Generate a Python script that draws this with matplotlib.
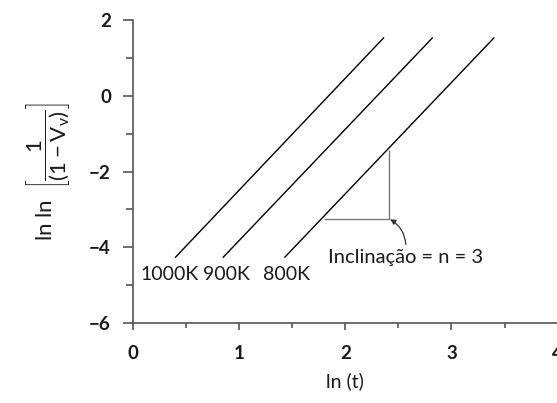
"""
ln ln [1/(1-Vv)] versus ln(t) for three temperatures.
"""

import numpy as np
from matplotlib import pyplot as plt

plt.rcParams['font.family'] = ['Lato', 'DejaVu Sans']
plt.rcParams['mathtext.fontset'] = 'custom'
plt.rcParams['mathtext.rm'] = 'Lato'
plt.rcParams['mathtext.it'] = 'Lato'

# Lines: start/end points in data units
temps = ["1000K", "900K", "800K"]
x_start = [0.40, 0.85, 1.43]
x_end = [2.36, 2.82, 3.40]
y_start = [-4.26, -4.26, -4.26]
y_end = [1.53, 1.53, 1.53]

# Label anchors (left edge, vertical centre)
label_x = [0.07, 0.66, 1.22]
label_y = [-4.72, -4.72, -4.72]

# Slope triangle on the 800K line
tri_x = [1.81, 2.41]
tri_y = [-3.24, -1.45]
slope_text = "Inclinação = n = 3"

AXIS_GRAY = "#555555"
TEXT_COLOR = "#1a1a1a"
TICK_FONTSIZE = 13.5
LABEL_FONTSIZE = 14

fig = plt.figure(figsize=(5.57, 4.03), dpi=100)
ax = fig.add_axes([0.239, 0.1985, 0.762, 0.7515])

for i, name in enumerate(temps):
    ax.plot([x_start[i], x_end[i]], [y_start[i], y_end[i]],
            color="black", linewidth=1.0)
    ax.text(label_x[i], label_y[i], name, fontsize=LABEL_FONTSIZE,
            ha="left", va="center", color=TEXT_COLOR)

# triangle: horizontal leg then vertical leg
ax.plot([tri_x[0], tri_x[1], tri_x[1]], [tri_y[0], tri_y[0], tri_y[1]],
        color="#777777", linewidth=1.0)

ax.annotate(slope_text, xy=(tri_x[1], tri_y[0]), xytext=(1.84, -4.26),
            fontsize=LABEL_FONTSIZE + 0.5, ha="left", va="center",
            color=TEXT_COLOR,
            arrowprops=dict(arrowstyle="-|>", color="#333333", lw=0.9,
                            mutation_scale=8, shrinkA=1, shrinkB=1,
                            relpos=(0.5, 1.0),
                            connectionstyle="arc3,rad=0.3"))

ax.set_xlim(0, 4)
ax.set_ylim(-6, 2)
ax.set_xticks([0, 1, 2, 3, 4])
ax.set_xticks(np.arange(0.5, 4, 1.0), minor=True)
ax.set_yticks([-6, -4, -2, 0, 2])
ax.set_yticks([-5, -3, -1, 1], minor=True)

for side in ["top", "right"]:
    ax.spines[side].set_visible(False)
for side in ["left", "bottom"]:
    ax.spines[side].set_color(AXIS_GRAY)
    ax.spines[side].set_linewidth(1.2)

ax.tick_params(axis="both", which="both", direction="out", color=AXIS_GRAY,
               width=1.2, labelsize=TICK_FONTSIZE, labelcolor=TEXT_COLOR)
ax.tick_params(axis="y", which="major", length=7, pad=9)
ax.tick_params(axis="y", which="minor", length=5)
ax.tick_params(axis="x", which="major", length=5, pad=11)
ax.tick_params(axis="x", which="minor", length=3.5)
ax.set_yticklabels(["\u22126", "\u22124", "\u22122", "0", "2"])
for lab in ax.get_xticklabels() + ax.get_yticklabels():
    lab.set_fontweight("bold")

ax.set_xlabel("ln (t)", fontsize=LABEL_FONTSIZE, labelpad=7, color=TEXT_COLOR)
ax.set_ylabel(r"ln ln  $\left[\dfrac{1}{(1-\mathrm{V_v})}\right]$",
              fontsize=LABEL_FONTSIZE + 2, labelpad=12, color=TEXT_COLOR)

fig.savefig("out.png", dpi=100)
